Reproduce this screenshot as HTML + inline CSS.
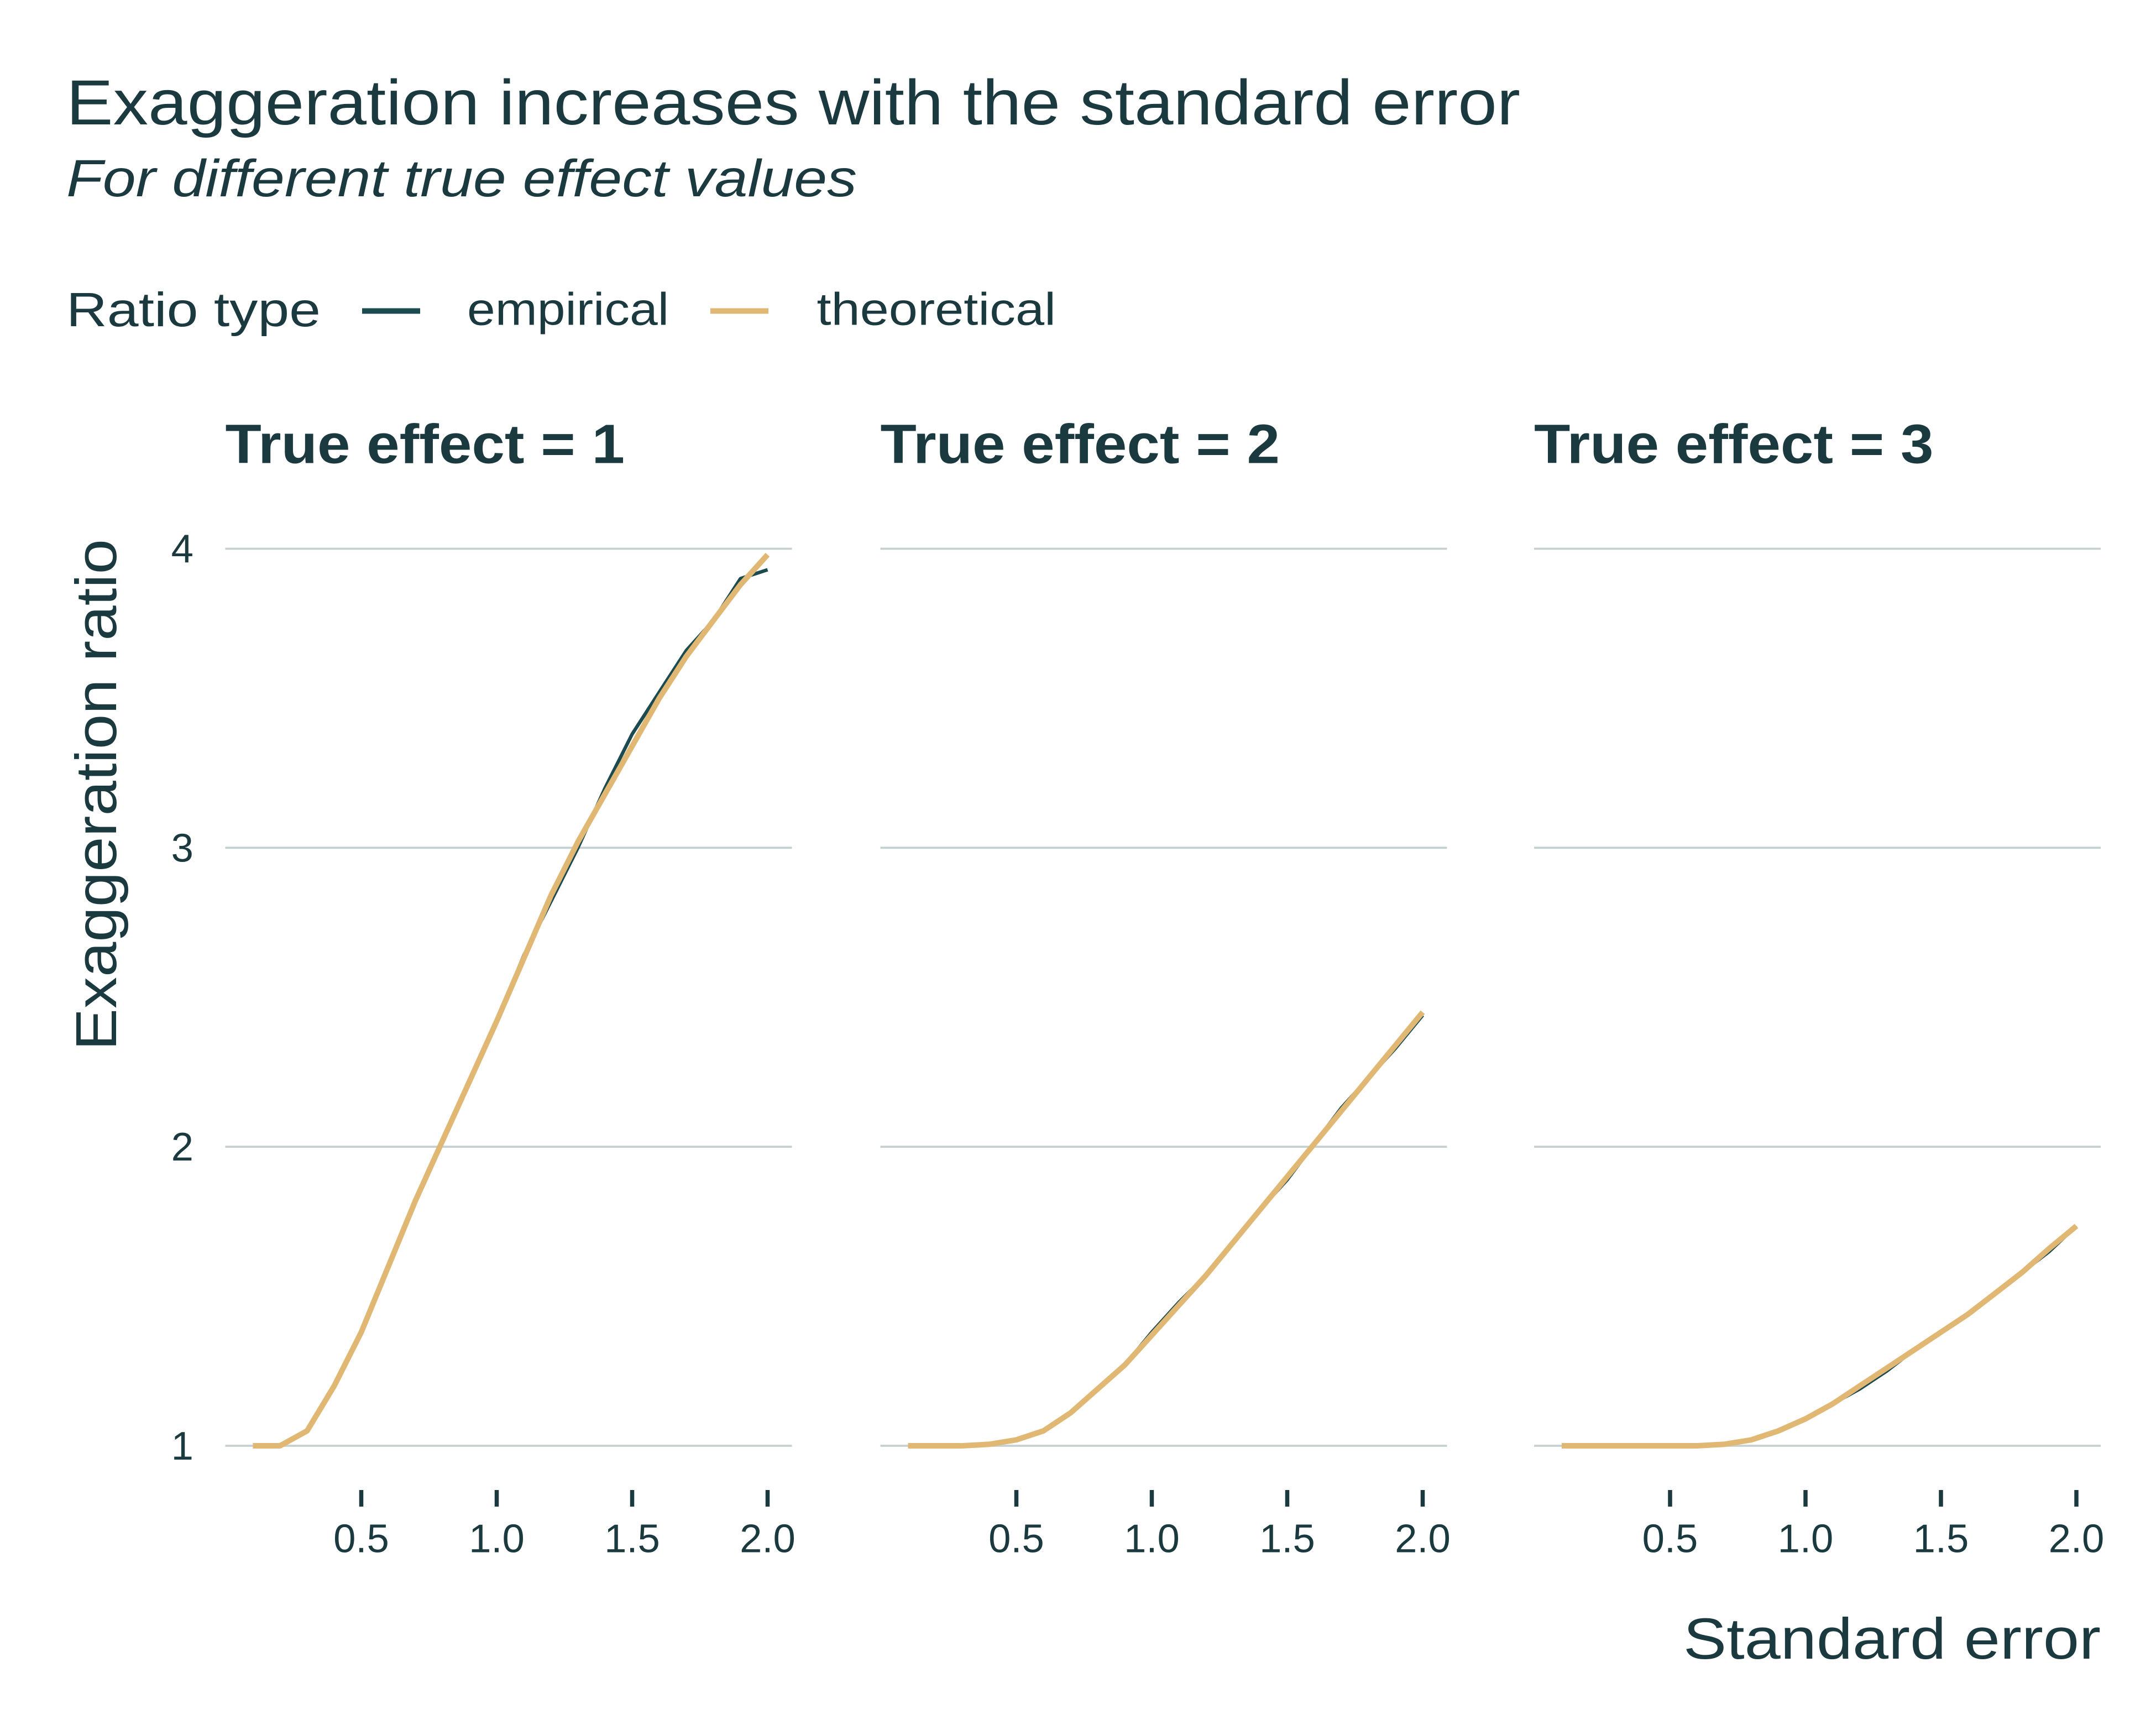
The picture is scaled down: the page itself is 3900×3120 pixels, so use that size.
<!DOCTYPE html>
<html><head><meta charset="utf-8">
<style>
html,body{margin:0;padding:0;background:#fff;}
svg{display:block;font-family:"Liberation Sans",sans-serif;}
</style></head>
<body>
<svg id="chart" width="3900" height="3120" viewBox="0 0 1560 1248" xmlns="http://www.w3.org/2000/svg">
<rect width="1560" height="1248" fill="#fff"/>
<text x="48" y="90" font-size="46" fill="#1b3a3f" textLength="1052" lengthAdjust="spacingAndGlyphs">Exaggeration increases with the standard error</text>
<text x="48" y="142" font-size="38" font-style="italic" fill="#1b3a3f" textLength="572" lengthAdjust="spacingAndGlyphs">For different true effect values</text>
<g>
<text x="48" y="236" font-size="35" fill="#1b3a3f" textLength="184" lengthAdjust="spacingAndGlyphs">Ratio type</text>
<line x1="262" y1="225" x2="304" y2="225" stroke="#1b4a4f" stroke-width="4"/>
<text x="338" y="235" font-size="33" fill="#1b3a3f" textLength="146" lengthAdjust="spacingAndGlyphs">empirical</text>
<line x1="514" y1="225" x2="556" y2="225" stroke="#e0b874" stroke-width="4"/>
<text x="591" y="235" font-size="33" fill="#1b3a3f" textLength="173" lengthAdjust="spacingAndGlyphs">theoretical</text>
</g>
<text transform="translate(84,575) rotate(-90)" text-anchor="middle" font-size="42" fill="#1b3a3f" textLength="370" lengthAdjust="spacingAndGlyphs">Exaggeration ratio</text>
<text x="1520" y="1200" text-anchor="end" font-size="42" fill="#1b3a3f" textLength="302" lengthAdjust="spacingAndGlyphs">Standard error</text>
<g id="panels"></g>
</svg>
<script>
const se = [0.1,0.2,0.3,0.4,0.5,0.6,0.7,0.8,0.9,1.0,1.1,1.2,1.3,1.4,1.5,1.6,1.7,1.8,1.9,2.0];
const facetTitles = ["True effect = 1","True effect = 2","True effect = 3"];
const theo1 = [1,1,1.05,1.2,1.38,1.6,1.82,2.02,2.22,2.42,2.63,2.84,3.02,3.18,3.34,3.5,3.64,3.76,3.88,3.98];
const emp1  = [1,1,1.05,1.2,1.38,1.6,1.82,2.02,2.22,2.42,2.64,2.82,3.0,3.2,3.38,3.52,3.66,3.76,3.9,3.93];
const theo2 = [1,1,1,1.005,1.02,1.05,1.11,1.19,1.27,1.37,1.47,1.57,1.68,1.79,1.9,2.01,2.12,2.23,2.34,2.45];
const emp2  = [1,1,1,1.005,1.02,1.05,1.11,1.19,1.27,1.38,1.48,1.57,1.68,1.79,1.89,2.01,2.13,2.23,2.33,2.44];
const theo3 = [1,1,1,1,1,1,1.005,1.02,1.05,1.09,1.14,1.2,1.26,1.32,1.38,1.44,1.51,1.58,1.66,1.735];
const emp3  = [1,1,1,1,1,1,1.005,1.02,1.05,1.09,1.14,1.19,1.25,1.32,1.38,1.44,1.51,1.58,1.65,1.735];
const yTicks = [1,2,3,4];
const xTicks = [0.5,1.0,1.5,2.0];
const xTickLabels = ["0.5","1.0","1.5","2.0"];

const NS="http://www.w3.org/2000/svg";
const g=document.getElementById('panels');
const panelLeft=[163,637,1110], panelW=410;
const yScale=v=>1046-(v-1)*216.33;
function xScale(p,v){return panelLeft[p]+20+(v-0.1)*196;}
function mk(tag,attrs){const e=document.createElementNS(NS,tag);for(const k in attrs)e.setAttribute(k,attrs[k]);return e;}
const theo=[theo1,theo2,theo3], emp=[emp1,emp2,emp3];
for(let p=0;p<3;p++){
  const pg=mk('g',{});
  
  
  g.appendChild(pg);
  const t=mk('text',{x:panelLeft[p],y:335,'font-size':40,'font-weight':'bold',fill:'#1b3a3f',textLength:289,lengthAdjust:'spacingAndGlyphs'});
  
  
  t.textContent=facetTitles[p];pg.appendChild(t);
  yTicks.forEach(v=>{
    const l=mk('line',{x1:panelLeft[p],x2:panelLeft[p]+panelW,y1:yScale(v),y2:yScale(v),stroke:'#c5d0d0','stroke-width':1.5});
    
    
    pg.appendChild(l);
    if(p===0){
      const tl=mk('text',{x:140,y:yScale(v)+10,'text-anchor':'end','font-size':29,fill:'#1b3a3f'});
      
      
      tl.textContent=v;pg.appendChild(tl);
    }
  });
  xTicks.forEach((v,i)=>{
    const x=xScale(p,v);
    const tk=mk('line',{x1:x,x2:x,y1:1078,y2:1090,stroke:'#1b3a3f','stroke-width':3});
    
    
    pg.appendChild(tk);
    const tl=mk('text',{x:x,y:1123,'text-anchor':'middle','font-size':29,fill:'#1b3a3f'});
    
    
    tl.textContent=xTickLabels[i];pg.appendChild(tl);
  });
  [[emp[p],'#1b4a4f',2.5,'empirical'],[theo[p],'#e0b874',4,'theoretical']].forEach(([arr,c,w,n])=>{
    const d=arr.map((v,i)=>(i?'L':'M')+xScale(p,se[i]).toFixed(1)+','+yScale(v).toFixed(1)).join(' ');
    const path=mk('path',{d:d,fill:'none',stroke:c,'stroke-width':w,'stroke-linejoin':'round'});
    
    
    pg.appendChild(path);
  });
}
</script>
</body></html>
